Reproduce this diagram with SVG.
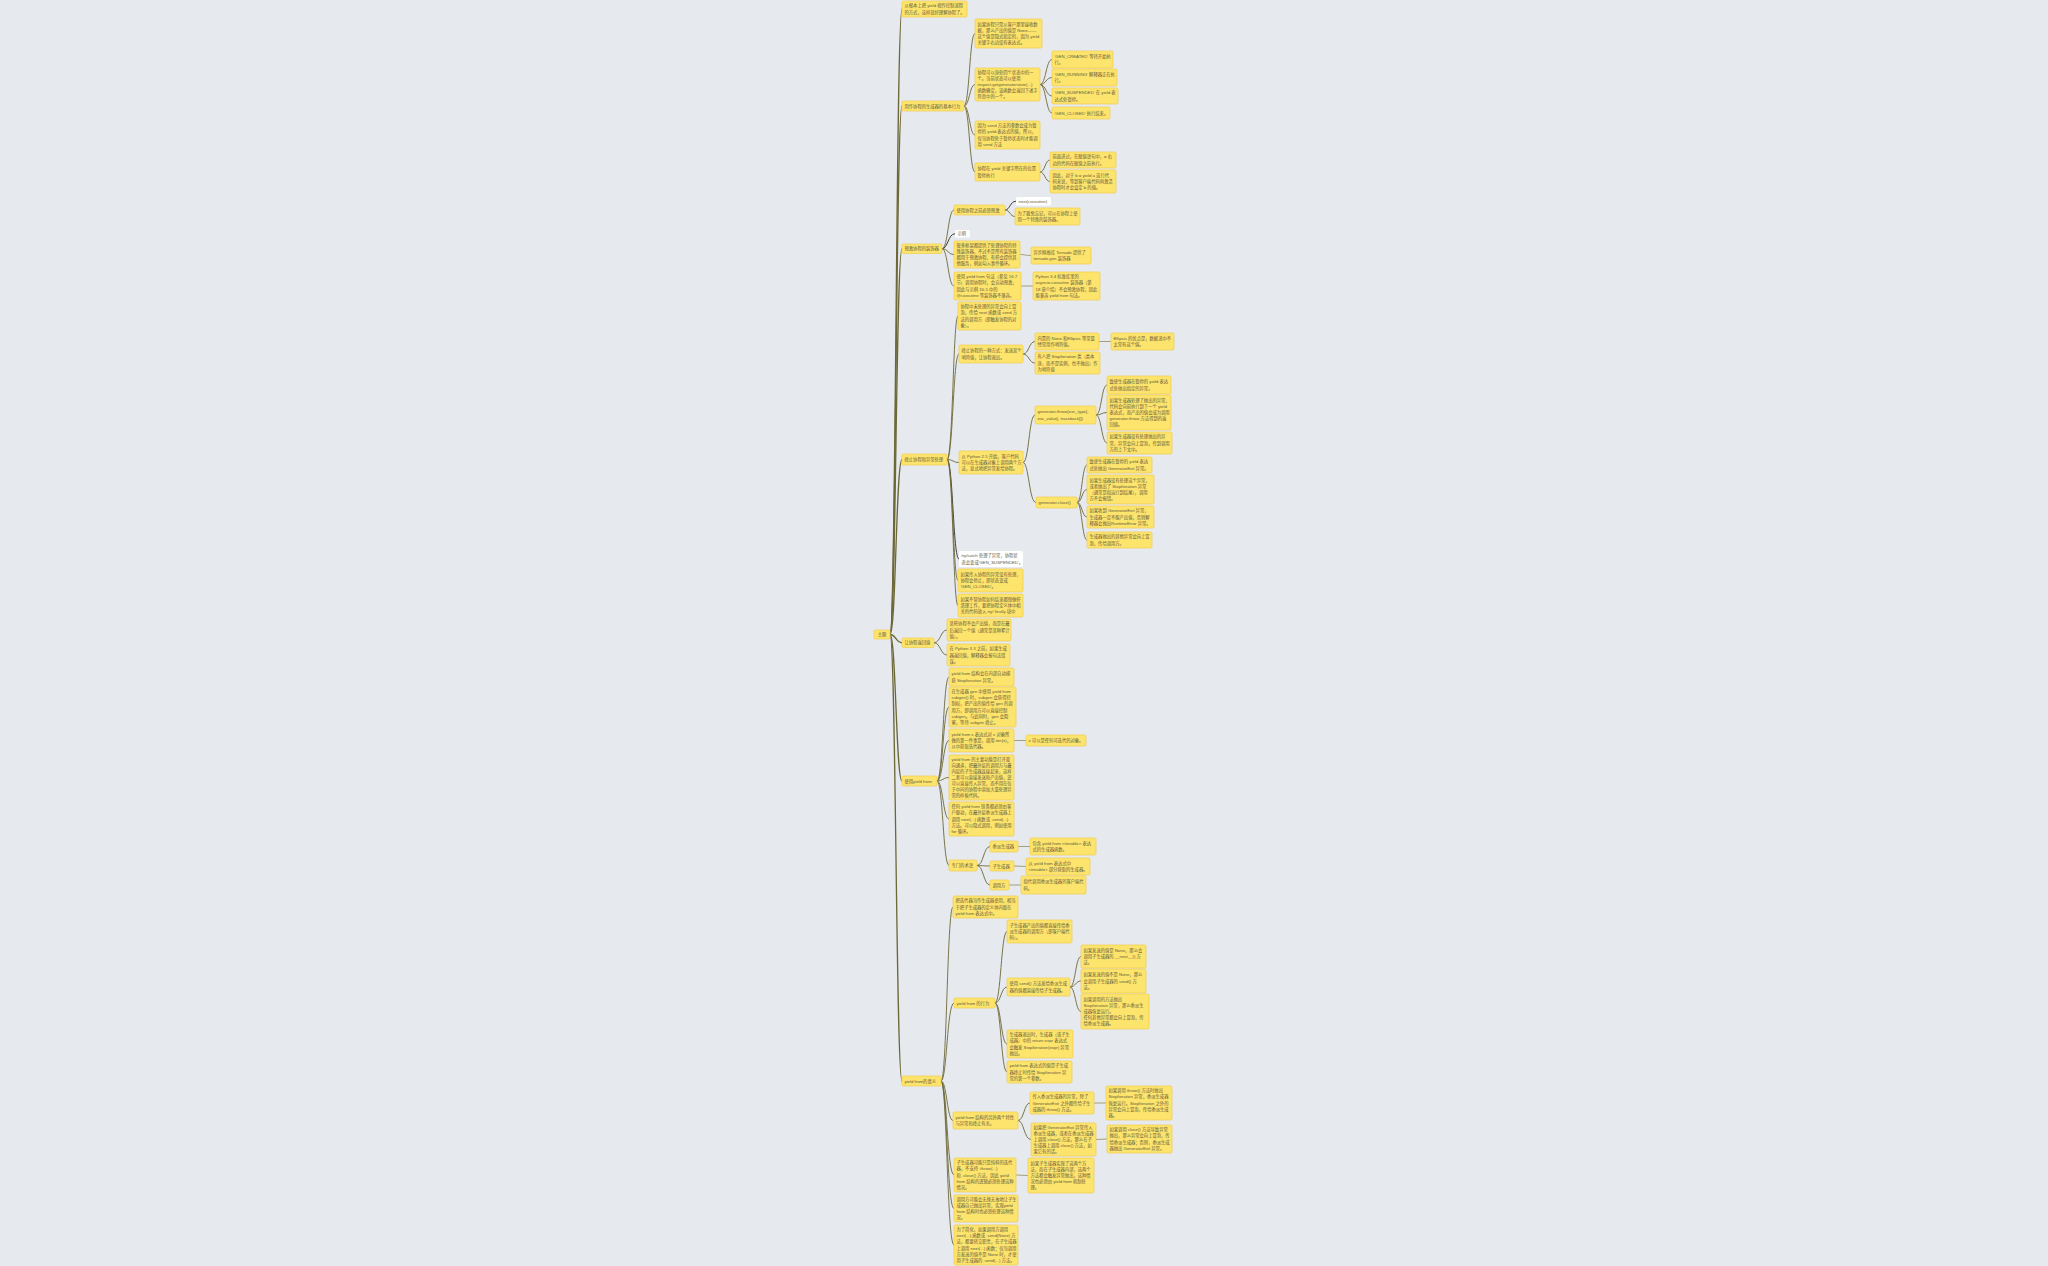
<svg xmlns="http://www.w3.org/2000/svg" width="2048" height="1266" viewBox="0 0 2048 1266">
<style>
.c{fill:none;stroke:#6d6838;stroke-width:0.9}
.c0{stroke-width:1.3}
.k{stroke:#2b2b2b}
.s{stroke:#9b976f}
.n rect{fill:#fde46c;stroke:#efcd4a;stroke-width:0.7}
.w rect{fill:#ffffff;stroke:none}
text{font-family:"Liberation Sans","Noto Sans CJK SC",sans-serif;font-size:4.3px;fill:#5e5a3e}
</style>
<rect width="2048" height="1266" fill="#e6e9ed"/>
<g id="connectors">
<path class="c c0" d="M890 634.5C896 634.5 896 9 902 9"/>
<path class="c c0" d="M890 634.5C896 634.5 896 106 902 106"/>
<path class="c c0" d="M890 634.5C896 634.5 896 248.75 902 248.75"/>
<path class="c c0" d="M890 634.5C896 634.5 896 459.5 902 459.5"/>
<path class="c c0" d="M890 634.5C896 634.5 896 642.75 902 642.75"/>
<path class="c c0" d="M890 634.5C896 634.5 896 781 902 781"/>
<path class="c c0" d="M890 634.5C896 634.5 896 1081 902 1081"/>
<path class="c" d="M964 106C969.5 106 969.5 33.5 975 33.5"/>
<path class="c" d="M964 106C969.5 106 969.5 84.5 975 84.5"/>
<path class="c" d="M964 106C969.5 106 969.5 135 975 135"/>
<path class="c" d="M964 106C969.5 106 969.5 172 975 172"/>
<path class="c" d="M1040 84.5C1046 84.5 1046 59.5 1052 59.5"/>
<path class="c" d="M1040 84.5C1046 84.5 1046 77.5 1052 77.5"/>
<path class="c" d="M1040 84.5C1046 84.5 1046 96 1052 96"/>
<path class="c" d="M1040 84.5C1046 84.5 1046 113 1052 113"/>
<path class="c" d="M1040 172C1045 172 1045 160 1050 160"/>
<path class="c" d="M1040 172C1045 172 1045 181.5 1050 181.5"/>
<path class="c" d="M942 248.75C948 248.75 948 210 954 210"/>
<path class="c k" d="M942 248.75C948 248.75 948 233.75 955 233.75"/>
<path class="c" d="M942 248.75C948 248.75 948 254.5 954 254.5"/>
<path class="c" d="M942 248.75C948 248.75 948 286 954 286"/>
<path class="c k" d="M1005 210C1010 210 1010 201.25 1016 201.25"/>
<path class="c" d="M1005 210C1010 210 1010 216.5 1015 216.5"/>
<path class="c s" d="M1020 254.5C1025 254.5 1025 255.5 1031 255.5"/>
<path class="c s" d="M1021 286L1033 286"/>
<path class="c" d="M947 459.5C953 459.5 953 316 958 316"/>
<path class="c" d="M947 459.5C953 459.5 953 354 959 354"/>
<path class="c" d="M947 459.5C953 459.5 953 462.5 959 462.5"/>
<path class="c k" d="M947 459.5C953 459.5 953 559 959 559"/>
<path class="c" d="M947 459.5C953 459.5 953 580.5 958 580.5"/>
<path class="c" d="M947 459.5C953 459.5 953 605.5 958 605.5"/>
<path class="c" d="M1023 354C1029 354 1029 341.5 1035 341.5"/>
<path class="c" d="M1023 354C1029 354 1029 363 1035 363"/>
<path class="c s" d="M1099 341.5L1111 341.5"/>
<path class="c" d="M1023 462.5C1029 462.5 1029 415 1035 415"/>
<path class="c" d="M1023 462.5C1029 462.5 1029 502.5 1036 502.5"/>
<path class="c" d="M1096 415C1101.5 415 1101.5 385 1107 385"/>
<path class="c" d="M1096 415C1101.5 415 1101.5 412.5 1107 412.5"/>
<path class="c" d="M1096 415C1101.5 415 1101.5 443 1107 443"/>
<path class="c" d="M1077 502.5C1082 502.5 1082 465 1087 465"/>
<path class="c" d="M1077 502.5C1082 502.5 1082 489.5 1087 489.5"/>
<path class="c" d="M1077 502.5C1082 502.5 1082 517 1087 517"/>
<path class="c" d="M1077 502.5C1082 502.5 1082 540 1087 540"/>
<path class="c" d="M934 642.75C940.5 642.75 940.5 630 947 630"/>
<path class="c" d="M934 642.75C940.5 642.75 940.5 655 947 655"/>
<path class="c" d="M937 781C943 781 943 677 949 677"/>
<path class="c" d="M937 781C943 781 943 707 949 707"/>
<path class="c" d="M937 781C943 781 943 740.5 949 740.5"/>
<path class="c" d="M937 781C943 781 943 777.5 949 777.5"/>
<path class="c" d="M937 781C943 781 943 819 949 819"/>
<path class="c" d="M937 781C943 781 943 865.5 949 865.5"/>
<path class="c s" d="M1014 740.5L1026 740.5"/>
<path class="c" d="M977 865.5C983.5 865.5 983.5 846.5 990 846.5"/>
<path class="c" d="M977 865.5C983.5 865.5 983.5 866 990 866"/>
<path class="c" d="M977 865.5C983.5 865.5 983.5 885 990 885"/>
<path class="c s" d="M1018 846.5L1030 846.5"/>
<path class="c s" d="M1014 866L1026 866.5"/>
<path class="c s" d="M1009 885L1021 885"/>
<path class="c" d="M941 1081C947 1081 947 907 953 907"/>
<path class="c" d="M941 1081C947 1081 947 1003 954 1003"/>
<path class="c" d="M941 1081C947 1081 947 1120.5 953 1120.5"/>
<path class="c" d="M941 1081C947 1081 947 1175 954 1175"/>
<path class="c" d="M941 1081C947 1081 947 1208.5 954 1208.5"/>
<path class="c" d="M941 1081C947 1081 947 1245 954 1245"/>
<path class="c" d="M995 1003C1001 1003 1001 931.5 1007 931.5"/>
<path class="c" d="M995 1003C1001 1003 1001 987 1007 987"/>
<path class="c" d="M995 1003C1001 1003 1001 1044 1007 1044"/>
<path class="c" d="M995 1003C1001 1003 1001 1072 1007 1072"/>
<path class="c" d="M1070 987C1075.5 987 1075.5 956.5 1081 956.5"/>
<path class="c" d="M1070 987C1075.5 987 1075.5 981 1081 981"/>
<path class="c" d="M1070 987C1075.5 987 1075.5 1011.5 1081 1011.5"/>
<path class="c" d="M1018 1120.5C1024 1120.5 1024 1103 1030 1103"/>
<path class="c" d="M1018 1120.5C1024 1120.5 1024 1139.5 1031 1139.5"/>
<path class="c s" d="M1094 1103L1106 1103"/>
<path class="c s" d="M1096 1139.5L1107 1139"/>
<path class="c s" d="M1016 1175L1028 1175.5"/>
</g>

<g id="root" class="n"><rect x="874" y="630" width="16" height="9" rx="1.5"/><text x="882" y="636" text-anchor="middle">主题</text></g>

<g id="n1" class="n"><rect x="902" y="1" width="65" height="16" rx="1.5"/><text x="904.5" y="7.45"><tspan>从根本上把 yield 视作控制流程</tspan><tspan x="904.5" dy="6.1">的方式，这样就好理解协程了。</tspan></text></g>
<g id="n2" class="n"><rect x="902" y="101" width="62" height="10" rx="1.5"/><text x="904.5" y="107.5">用作协程的生成器的基本行为</text></g>
<g id="n3" class="n"><rect x="902" y="244" width="40" height="9.5" rx="1.5"/><text x="904.5" y="250.25">预激协程的装饰器</text></g>
<g id="n4" class="n"><rect x="902" y="454" width="45" height="11" rx="1.5"/><text x="904.5" y="461">终止协程和异常处理</text></g>
<g id="n5" class="n"><rect x="902" y="638" width="32" height="9.5" rx="1.5"/><text x="904.5" y="644.25">让协程返回值</text></g>
<g id="n6" class="n"><rect x="902" y="776" width="35" height="10" rx="1.5"/><text x="904.5" y="782.5">使用yield from</text></g>
<g id="n7" class="n"><rect x="902" y="1076" width="39" height="10" rx="1.5"/><text x="904.5" y="1082.5">yield from的意义</text></g>

<g id="n2a" class="n"><rect x="975" y="19" width="67" height="29" rx="1.5"/><text x="977.5" y="25.85"><tspan>如果协程只需从客户那里接收数</tspan><tspan x="977.5" dy="6.1">据，那么产出的值是 None——</tspan><tspan x="977.5" dy="6.1">这个值是隐式指定的，因为 yield</tspan><tspan x="977.5" dy="6.1">关键字右边没有表达式。</tspan></text></g>
<g id="n2b" class="n"><rect x="975" y="68" width="65" height="33" rx="1.5"/><text x="977.5" y="73.8"><tspan>协程可以身处四个状态中的一</tspan><tspan x="977.5" dy="6.1">个。当前状态可以使用</tspan><tspan x="977.5" dy="6.1">inspect.getgeneratorstate(...)</tspan><tspan x="977.5" dy="6.1">函数确定，该函数会返回下述字</tspan><tspan x="977.5" dy="6.1">符串中的一个。</tspan></text></g>
<g id="n2b1" class="n"><rect x="1052" y="51" width="61" height="17" rx="1.5"/><text x="1054.5" y="57.95"><tspan>'GEN_CREATED' 等待开始执</tspan><tspan x="1054.5" dy="6.1">行。</tspan></text></g>
<g id="n2b2" class="n"><rect x="1052" y="69" width="65" height="17" rx="1.5"/><text x="1054.5" y="75.95"><tspan>'GEN_RUNNING' 解释器正在执</tspan><tspan x="1054.5" dy="6.1">行。</tspan></text></g>
<g id="n2b3" class="n"><rect x="1052" y="88" width="66" height="16" rx="1.5"/><text x="1054.5" y="94.45"><tspan>'GEN_SUSPENDED' 在 yield 表</tspan><tspan x="1054.5" dy="6.1">达式处暂停。</tspan></text></g>
<g id="n2b4" class="n"><rect x="1052" y="107" width="58" height="12" rx="1.5"/><text x="1054.5" y="114.5">'GEN_CLOSED' 执行结束。</text></g>
<g id="n2c" class="n"><rect x="975" y="121" width="65" height="28" rx="1.5"/><text x="977.5" y="127.35"><tspan>因为 send 方法的参数会成为暂</tspan><tspan x="977.5" dy="6.1">停的 yield 表达式的值，所以，</tspan><tspan x="977.5" dy="6.1">仅当协程处于暂停状态时才能调</tspan><tspan x="977.5" dy="6.1">用 send 方法</tspan></text></g>
<g id="n2d" class="n"><rect x="975" y="163" width="65" height="18" rx="1.5"/><text x="977.5" y="170.45"><tspan>协程在 yield 关键字所在的位置</tspan><tspan x="977.5" dy="6.1">暂停执行</tspan></text></g>
<g id="n2d1" class="n"><rect x="1050" y="152" width="66" height="16" rx="1.5"/><text x="1052.5" y="158.45"><tspan>前面讲过，在赋值语句中，= 右</tspan><tspan x="1052.5" dy="6.1">边的代码在赋值之前执行。</tspan></text></g>
<g id="n2d2" class="n"><rect x="1050" y="170" width="66" height="23" rx="1.5"/><text x="1052.5" y="176.9"><tspan>因此，对于 b = yield a 这行代</tspan><tspan x="1052.5" dy="6.1">码来说，等到客户端代码再激活</tspan><tspan x="1052.5" dy="6.1">协程时才会设定 b 的值。</tspan></text></g>

<g id="n3a" class="n"><rect x="954" y="205" width="51" height="10" rx="1.5"/><text x="956.5" y="211.5">使用协程之前必须预激</text></g>
<g id="n3a1" class="w"><rect x="1016" y="197" width="35" height="8.5" rx="1.5"/><text x="1018.5" y="202.75">next(coroutine)</text></g>
<g id="n3a2" class="n"><rect x="1015" y="208" width="65" height="17" rx="1.5"/><text x="1017.5" y="214.95"><tspan>为了避免忘记，可以在协程上使</tspan><tspan x="1017.5" dy="6.1">用一个特殊的装饰器。</tspan></text></g>
<g id="n3b" class="w"><rect x="955" y="230" width="15" height="7.5" rx="1.5"/><text x="957.5" y="235.25">示例</text></g>
<g id="n3c" class="n"><rect x="954" y="241" width="66" height="27" rx="1.5"/><text x="956.5" y="246.85"><tspan>很多框架都提供了处理协程的特</tspan><tspan x="956.5" dy="6.1">殊装饰器，不过不是所有装饰器</tspan><tspan x="956.5" dy="6.1">都用于预激协程，有些会提供其</tspan><tspan x="956.5" dy="6.1">他服务，例如勾入事件循环。</tspan></text></g>
<g id="n3c1" class="n"><rect x="1031" y="247" width="60" height="17" rx="1.5"/><text x="1033.5" y="253.95"><tspan>异步网络库 Tornado 提供了</tspan><tspan x="1033.5" dy="6.1">tornado.gen 装饰器</tspan></text></g>
<g id="n3d" class="n"><rect x="954" y="272" width="67" height="28" rx="1.5"/><text x="956.5" y="278.35"><tspan>使用 yield from 句法（参见 16.7</tspan><tspan x="956.5" dy="6.1">节）调用协程时，会自动预激，</tspan><tspan x="956.5" dy="6.1">因此与示例 16-5 中的</tspan><tspan x="956.5" dy="6.1">@coroutine 等装饰器不兼容。</tspan></text></g>
<g id="n3d1" class="n"><rect x="1033" y="272" width="67" height="28" rx="1.5"/><text x="1035.5" y="278.35"><tspan>Python 3.4 标准库里的</tspan><tspan x="1035.5" dy="6.1">asyncio.coroutine 装饰器（第</tspan><tspan x="1035.5" dy="6.1">18 章介绍）不会预激协程，因此</tspan><tspan x="1035.5" dy="6.1">能兼容 yield from 句法。</tspan></text></g>

<g id="n4a" class="n"><rect x="958" y="302" width="63" height="28" rx="1.5"/><text x="960.5" y="308.35"><tspan>协程中未处理的异常会向上冒</tspan><tspan x="960.5" dy="6.1">泡，传给 next 函数或 send 方</tspan><tspan x="960.5" dy="6.1">法的调用方（即触发协程的对</tspan><tspan x="960.5" dy="6.1">象）。</tspan></text></g>
<g id="n4b" class="n"><rect x="959" y="345" width="64" height="18" rx="1.5"/><text x="961.5" y="352.45"><tspan>终止协程的一种方式：发送某个</tspan><tspan x="961.5" dy="6.1">哨符值，让协程退出。</tspan></text></g>
<g id="n4b1" class="n"><rect x="1035" y="333" width="64" height="17" rx="1.5"/><text x="1037.5" y="339.95"><tspan>内置的 None 和Ellipsis 等常量</tspan><tspan x="1037.5" dy="6.1">经常用作哨符值。</tspan></text></g>
<g id="n4b1a" class="n"><rect x="1111" y="333" width="63" height="17" rx="1.5"/><text x="1113.5" y="339.95"><tspan>Ellipsis 的优点是，数据流中不</tspan><tspan x="1113.5" dy="6.1">太常有这个值。</tspan></text></g>
<g id="n4b2" class="n"><rect x="1035" y="352" width="65" height="22" rx="1.5"/><text x="1037.5" y="358.4"><tspan>有人把 StopIteration 类（类本</tspan><tspan x="1037.5" dy="6.1">身，而不是实例，也不抛出）作</tspan><tspan x="1037.5" dy="6.1">为哨符值</tspan></text></g>
<g id="n4c" class="n"><rect x="959" y="451" width="64" height="23" rx="1.5"/><text x="961.5" y="457.9"><tspan>从 Python 2.5 开始，客户代码</tspan><tspan x="961.5" dy="6.1">可以在生成器对象上调用两个方</tspan><tspan x="961.5" dy="6.1">法，显式地把异常发给协程。</tspan></text></g>
<g id="n4c1" class="n"><rect x="1035" y="406" width="61" height="18" rx="1.5"/><text x="1037.5" y="413.45"><tspan>generator.throw(exc_type[,</tspan><tspan x="1037.5" dy="6.1">exc_value[, traceback]])</tspan></text></g>
<g id="n4c1a" class="n"><rect x="1107" y="376" width="64" height="18" rx="1.5"/><text x="1109.5" y="383.45"><tspan>致使生成器在暂停的 yield 表达</tspan><tspan x="1109.5" dy="6.1">式处抛出指定的异常。</tspan></text></g>
<g id="n4c1b" class="n"><rect x="1107" y="395" width="64" height="35" rx="1.5"/><text x="1109.5" y="401.8"><tspan>如果生成器处理了抛出的异常，</tspan><tspan x="1109.5" dy="6.1">代码会向前执行到下一个 yield</tspan><tspan x="1109.5" dy="6.1">表达式，而产出的值会成为调用</tspan><tspan x="1109.5" dy="6.1">generator.throw 方法得到的返</tspan><tspan x="1109.5" dy="6.1">回值。</tspan></text></g>
<g id="n4c1c" class="n"><rect x="1107" y="432" width="65" height="22" rx="1.5"/><text x="1109.5" y="438.4"><tspan>如果生成器没有处理抛出的异</tspan><tspan x="1109.5" dy="6.1">常，异常会向上冒泡，传到调用</tspan><tspan x="1109.5" dy="6.1">方的上下文中。</tspan></text></g>
<g id="n4c2" class="n"><rect x="1036" y="497" width="41" height="11" rx="1.5"/><text x="1038.5" y="504">generator.close()</text></g>
<g id="n4c2a" class="n"><rect x="1087" y="457" width="65" height="16" rx="1.5"/><text x="1089.5" y="463.45"><tspan>致使生成器在暂停的 yield 表达</tspan><tspan x="1089.5" dy="6.1">式处抛出 GeneratorExit 异常。</tspan></text></g>
<g id="n4c2b" class="n"><rect x="1087" y="475" width="67" height="29" rx="1.5"/><text x="1089.5" y="481.85"><tspan>如果生成器没有处理这个异常，</tspan><tspan x="1089.5" dy="6.1">或者抛出了 StopIteration 异常</tspan><tspan x="1089.5" dy="6.1">（通常是指运行到结尾），调用</tspan><tspan x="1089.5" dy="6.1">方不会报错。</tspan></text></g>
<g id="n4c2c" class="n"><rect x="1087" y="506" width="67" height="22" rx="1.5"/><text x="1089.5" y="512.4"><tspan>如果收到 GeneratorExit 异常，</tspan><tspan x="1089.5" dy="6.1">生成器一定不能产出值，否则解</tspan><tspan x="1089.5" dy="6.1">释器会抛出RuntimeError 异常。</tspan></text></g>
<g id="n4c2d" class="n"><rect x="1087" y="532" width="65" height="16" rx="1.5"/><text x="1089.5" y="538.45"><tspan>生成器抛出的其他异常会向上冒</tspan><tspan x="1089.5" dy="6.1">泡，传给调用方。</tspan></text></g>
<g id="n4d" class="w"><rect x="959" y="551" width="64" height="16" rx="1.5"/><text x="961.5" y="557.45"><tspan>try/catch 处理了异常，协程状</tspan><tspan x="961.5" dy="6.1">态会变成'GEN_SUSPENDED'。</tspan></text></g>
<g id="n4e" class="n"><rect x="958" y="569" width="65" height="23" rx="1.5"/><text x="960.5" y="575.9"><tspan>如果传入协程的异常没有处理，</tspan><tspan x="960.5" dy="6.1">协程会停止，即状态变成</tspan><tspan x="960.5" dy="6.1">'GEN_CLOSED'。</tspan></text></g>
<g id="n4f" class="n"><rect x="958" y="594" width="65" height="23" rx="1.5"/><text x="960.5" y="600.9"><tspan>如果不管协程如何结束都想做些</tspan><tspan x="960.5" dy="6.1">清理工作，要把协程定义体中相</tspan><tspan x="960.5" dy="6.1">关的代码放入 try/ finally 块中</tspan></text></g>

<g id="n5a" class="n"><rect x="947" y="619" width="64" height="22" rx="1.5"/><text x="949.5" y="625.4"><tspan>某些协程不会产出值，而是在最</tspan><tspan x="949.5" dy="6.1">后返回一个值（通常是某种累计</tspan><tspan x="949.5" dy="6.1">值）。</tspan></text></g>
<g id="n5b" class="n"><rect x="947" y="644" width="63" height="22" rx="1.5"/><text x="949.5" y="650.4"><tspan>在 Python 3.3 之前，如果生成</tspan><tspan x="949.5" dy="6.1">器返回值，解释器会报句法错</tspan><tspan x="949.5" dy="6.1">误。</tspan></text></g>

<g id="n6a" class="n"><rect x="949" y="668" width="65" height="18" rx="1.5"/><text x="951.5" y="675.45"><tspan>yield from 结构会在内部自动捕</tspan><tspan x="951.5" dy="6.1">获 StopIteration 异常。</tspan></text></g>
<g id="n6b" class="n"><rect x="949" y="687" width="67" height="40" rx="1.5"/><text x="951.5" y="693.25"><tspan>在生成器 gen 中使用 yield from</tspan><tspan x="951.5" dy="6.1">subgen() 时，subgen 会获得控</tspan><tspan x="951.5" dy="6.1">制权，把产出的值传给 gen 的调</tspan><tspan x="951.5" dy="6.1">用方，即调用方可以直接控制</tspan><tspan x="951.5" dy="6.1">subgen。与此同时，gen 会阻</tspan><tspan x="951.5" dy="6.1">塞，等待 subgen 终止。</tspan></text></g>
<g id="n6c" class="n"><rect x="949" y="729" width="65" height="23" rx="1.5"/><text x="951.5" y="735.9"><tspan>yield from x 表达式对 x 对象所</tspan><tspan x="951.5" dy="6.1">做的第一件事是，调用 iter(x)，</tspan><tspan x="951.5" dy="6.1">从中获取迭代器。</tspan></text></g>
<g id="n6c1" class="n"><rect x="1026" y="735" width="60" height="11" rx="1.5"/><text x="1028.5" y="742">x 可以是任何可迭代的对象。</text></g>
<g id="n6d" class="n"><rect x="949" y="755" width="65" height="45" rx="1.5"/><text x="951.5" y="760.7"><tspan>yield from 的主要功能是打开双</tspan><tspan x="951.5" dy="6.1">向通道，把最外层的调用方与最</tspan><tspan x="951.5" dy="6.1">内层的子生成器连接起来，这样</tspan><tspan x="951.5" dy="6.1">二者可以直接发送和产出值，还</tspan><tspan x="951.5" dy="6.1">可以直接传入异常，而不用在位</tspan><tspan x="951.5" dy="6.1">于中间的协程中添加大量处理异</tspan><tspan x="951.5" dy="6.1">常的样板代码。</tspan></text></g>
<g id="n6e" class="n"><rect x="949" y="802" width="65" height="34" rx="1.5"/><text x="951.5" y="808.3"><tspan>任何 yield from 链条都必须由客</tspan><tspan x="951.5" dy="6.1">户驱动，在最外层委派生成器上</tspan><tspan x="951.5" dy="6.1">调用 next(...) 函数或 .send(...)</tspan><tspan x="951.5" dy="6.1">方法。可以隐式调用，例如使用</tspan><tspan x="951.5" dy="6.1">for 循环。</tspan></text></g>
<g id="n6f" class="n"><rect x="949" y="860" width="28" height="11" rx="1.5"/><text x="951.5" y="867">专门的术语</text></g>
<g id="n6f1" class="n"><rect x="990" y="841" width="28" height="11" rx="1.5"/><text x="992.5" y="848">委派生成器</text></g>
<g id="n6f1a" class="n"><rect x="1030" y="838" width="66" height="17" rx="1.5"/><text x="1032.5" y="844.95"><tspan>包含 yield from &lt;iterable&gt; 表达</tspan><tspan x="1032.5" dy="6.1">式的生成器函数。</tspan></text></g>
<g id="n6f2" class="n"><rect x="990" y="861" width="24" height="10" rx="1.5"/><text x="992.5" y="867.5">子生成器</text></g>
<g id="n6f2a" class="n"><rect x="1026" y="858" width="64" height="17" rx="1.5"/><text x="1028.5" y="864.95"><tspan>从 yield from 表达式中</tspan><tspan x="1028.5" dy="6.1">&lt;iterable&gt; 部分获取的生成器。</tspan></text></g>
<g id="n6f3" class="n"><rect x="990" y="880" width="19" height="10" rx="1.5"/><text x="992.5" y="886.5">调用方</text></g>
<g id="n6f3a" class="n"><rect x="1021" y="876" width="65" height="18" rx="1.5"/><text x="1023.5" y="883.45"><tspan>指代调用委派生成器的客户端代</tspan><tspan x="1023.5" dy="6.1">码。</tspan></text></g>

<g id="n7a" class="n"><rect x="953" y="896" width="65" height="22" rx="1.5"/><text x="955.5" y="902.4"><tspan>把迭代器当作生成器使用，相当</tspan><tspan x="955.5" dy="6.1">于把子生成器的定义体内联在</tspan><tspan x="955.5" dy="6.1">yield from 表达式中。</tspan></text></g>
<g id="n7b" class="n"><rect x="954" y="998" width="41" height="10" rx="1.5"/><text x="956.5" y="1004.5">yield from 的行为</text></g>
<g id="n7b1" class="n"><rect x="1007" y="920" width="65" height="23" rx="1.5"/><text x="1009.5" y="926.9"><tspan>子生成器产出的值都直接传给委</tspan><tspan x="1009.5" dy="6.1">派生成器的调用方（即客户端代</tspan><tspan x="1009.5" dy="6.1">码）。</tspan></text></g>
<g id="n7b2" class="n"><rect x="1007" y="978" width="63" height="18" rx="1.5"/><text x="1009.5" y="985.45"><tspan>使用 send() 方法发给委派生成</tspan><tspan x="1009.5" dy="6.1">器的值都直接传给子生成器。</tspan></text></g>
<g id="n7b2a" class="n"><rect x="1081" y="945" width="65" height="23" rx="1.5"/><text x="1083.5" y="951.9"><tspan>如果发送的值是 None，那么会</tspan><tspan x="1083.5" dy="6.1">调用子生成器的 __next__() 方</tspan><tspan x="1083.5" dy="6.1">法。</tspan></text></g>
<g id="n7b2b" class="n"><rect x="1081" y="969" width="65" height="24" rx="1.5"/><text x="1083.5" y="976.4"><tspan>如果发送的值不是 None，那么</tspan><tspan x="1083.5" dy="6.1">会调用子生成器的 send() 方</tspan><tspan x="1083.5" dy="6.1">法。</tspan></text></g>
<g id="n7b2c" class="n"><rect x="1081" y="994" width="68" height="35" rx="1.5"/><text x="1083.5" y="1000.8"><tspan>如果调用的方法抛出</tspan><tspan x="1083.5" dy="6.1">StopIteration 异常，那么委派生</tspan><tspan x="1083.5" dy="6.1">成器恢复运行。</tspan><tspan x="1083.5" dy="6.1">任何其他异常都会向上冒泡，传</tspan><tspan x="1083.5" dy="6.1">给委派生成器。</tspan></text></g>
<g id="n7b3" class="n"><rect x="1007" y="1030" width="66" height="28" rx="1.5"/><text x="1009.5" y="1036.35"><tspan>生成器退出时，生成器（或子生</tspan><tspan x="1009.5" dy="6.1">成器）中的 return expr 表达式</tspan><tspan x="1009.5" dy="6.1">会触发 StopIteration(expr) 异常</tspan><tspan x="1009.5" dy="6.1">抛出。</tspan></text></g>
<g id="n7b4" class="n"><rect x="1007" y="1061" width="65" height="22" rx="1.5"/><text x="1009.5" y="1067.4"><tspan>yield from 表达式的值是子生成</tspan><tspan x="1009.5" dy="6.1">器终止时传给 StopIteration 异</tspan><tspan x="1009.5" dy="6.1">常的第一个参数。</tspan></text></g>
<g id="n7c" class="n"><rect x="953" y="1112" width="65" height="17" rx="1.5"/><text x="955.5" y="1118.95"><tspan>yield from 结构的另外两个特性</tspan><tspan x="955.5" dy="6.1">与异常和终止有关。</tspan></text></g>
<g id="n7c1" class="n"><rect x="1030" y="1092" width="64" height="22" rx="1.5"/><text x="1032.5" y="1098.4"><tspan>传入委派生成器的异常，除了</tspan><tspan x="1032.5" dy="6.1">GeneratorExit 之外都传给子生</tspan><tspan x="1032.5" dy="6.1">成器的 throw() 方法。</tspan></text></g>
<g id="n7c1a" class="n"><rect x="1106" y="1086" width="66" height="34" rx="1.5"/><text x="1108.5" y="1092.3"><tspan>如果调用 throw() 方法时抛出</tspan><tspan x="1108.5" dy="6.1">StopIteration 异常，委派生成器</tspan><tspan x="1108.5" dy="6.1">恢复运行。StopIteration 之外的</tspan><tspan x="1108.5" dy="6.1">异常会向上冒泡，传给委派生成</tspan><tspan x="1108.5" dy="6.1">器。</tspan></text></g>
<g id="n7c2" class="n"><rect x="1031" y="1123" width="65" height="33" rx="1.5"/><text x="1033.5" y="1128.8"><tspan>如果把 GeneratorExit 异常传入</tspan><tspan x="1033.5" dy="6.1">委派生成器，或者在委派生成器</tspan><tspan x="1033.5" dy="6.1">上调用 close() 方法，那么在子</tspan><tspan x="1033.5" dy="6.1">生成器上调用 close() 方法，如</tspan><tspan x="1033.5" dy="6.1">果它有的话。</tspan></text></g>
<g id="n7c2a" class="n"><rect x="1107" y="1125" width="65" height="28" rx="1.5"/><text x="1109.5" y="1131.35"><tspan>如果调用 close() 方法导致异常</tspan><tspan x="1109.5" dy="6.1">抛出，那么异常会向上冒泡，传</tspan><tspan x="1109.5" dy="6.1">给委派生成器；否则，委派生成</tspan><tspan x="1109.5" dy="6.1">器抛出 GeneratorExit 异常。</tspan></text></g>
<g id="n7d" class="n"><rect x="954" y="1158" width="62" height="34" rx="1.5"/><text x="956.5" y="1164.3"><tspan>子生成器可能只是纯粹的迭代</tspan><tspan x="956.5" dy="6.1">器，不支持 .throw(...)</tspan><tspan x="956.5" dy="6.1">和 .close() 方法，因此 yield</tspan><tspan x="956.5" dy="6.1">from 结构的逻辑必须处理这种</tspan><tspan x="956.5" dy="6.1">情况。</tspan></text></g>
<g id="n7d1" class="n"><rect x="1028" y="1158" width="66" height="35" rx="1.5"/><text x="1030.5" y="1164.8"><tspan>如果子生成器实现了这两个方</tspan><tspan x="1030.5" dy="6.1">法，而在子生成器内部，这两个</tspan><tspan x="1030.5" dy="6.1">方法都会触发异常抛出，这种情</tspan><tspan x="1030.5" dy="6.1">况也必须由 yield from 机制处</tspan><tspan x="1030.5" dy="6.1">理。</tspan></text></g>
<g id="n7e" class="n"><rect x="954" y="1195" width="64" height="27" rx="1.5"/><text x="956.5" y="1200.85"><tspan>调用方可能会无缘无故地让子生</tspan><tspan x="956.5" dy="6.1">成器自己抛出异常，实现yield</tspan><tspan x="956.5" dy="6.1">from 结构时也必须处理这种情</tspan><tspan x="956.5" dy="6.1">况。</tspan></text></g>
<g id="n7f" class="n"><rect x="954" y="1225" width="64" height="40" rx="1.5"/><text x="956.5" y="1231.25"><tspan>为了简化，如果调用方调用</tspan><tspan x="956.5" dy="6.1">next(...) 函数或 .send(None) 方</tspan><tspan x="956.5" dy="6.1">法，都要转交职责，在子生成器</tspan><tspan x="956.5" dy="6.1">上调用 next(...) 函数；仅当调用</tspan><tspan x="956.5" dy="6.1">方发送的值不是 None 时，才使</tspan><tspan x="956.5" dy="6.1">用子生成器的 .send(...) 方法。</tspan></text></g>
</svg>
